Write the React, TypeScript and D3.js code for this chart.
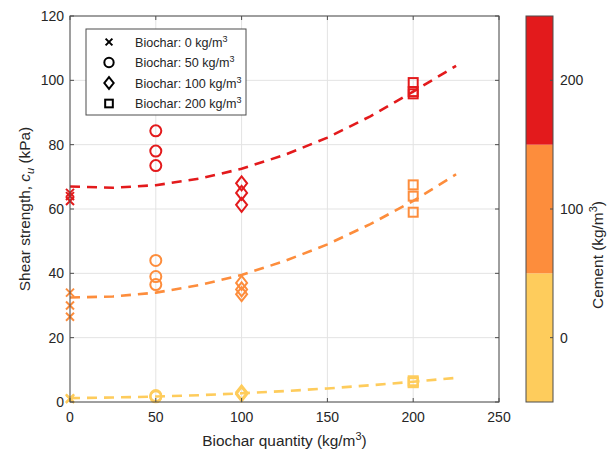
import React from "react";
import * as d3 from "d3";

// biochar dose per group (kg/m3) and cement level per series (kg/m3)
const biochar = [0, 50, 100, 200];
const cement = [0, 100, 200];
const cementColors = ["#FECC5C", "#FD8D3C", "#E31A1C"];

// measured shear strength c_u (kPa), one list of repeats per biochar dose
const cu_c0 = [[1.2, 1.0, 0.9], [2.0, 1.7, 1.6], [3.0, 2.6, 2.4], [6.6, 6.2, 6.0]];
const cu_c100 = [[34, 30, 26.5], [44, 39, 36.5], [37, 35, 33.5], [67.5, 64, 59]];
const cu_c200 = [[65, 64, 62.5], [84.3, 78, 73.5], [68, 65, 61.3], [99.3, 96.5, 95.8]];

// dashed trend lines
const fitX = [0, 25, 50, 75, 100, 125, 150, 175, 200, 225];
const fit_c0 = [1.2, 1.4, 1.7, 2.1, 2.7, 3.4, 4.2, 5.2, 6.3, 7.5];
const fit_c100 = [32.5, 32.8, 34.0, 36.3, 39.5, 43.8, 49.0, 55.3, 62.5, 70.8];
const fit_c200 = [67, 66.6, 67.4, 69.4, 72.5, 76.8, 82.2, 88.8, 96.5, 104.5];

const xTicks = [0, 50, 100, 150, 200, 250];
const yTicks = [0, 20, 40, 60, 80, 100, 120];
const cTicks = [0, 100, 200];

const series = [cu_c0, cu_c100, cu_c200];
const fits = [fit_c0, fit_c100, fit_c200];

const W = 611, H = 455;
const font = "'Liberation Sans', Arial, Helvetica, sans-serif";
const textCol = "#262626";
const axisCol = "#4d4d4d";

function Marker({ kind, x, y, color, s = 1 }) {
    const sw = 2;
    if (kind === 0) {
        const d = 4 * s;
        return <path d={`M${x - d},${y - d}L${x + d},${y + d}M${x - d},${y + d}L${x + d},${y - d}`}
            stroke={color} strokeWidth={sw} fill="none" />;
    }
    if (kind === 1) {
        return <circle cx={x} cy={y} r={5.5 * s} stroke={color} strokeWidth={sw} fill="none" />;
    }
    if (kind === 2) {
        const w = 5.5 * s, h = 7 * s;
        return <path d={`M${x},${y - h}L${x + w},${y}L${x},${y + h}L${x - w},${y}Z`}
            stroke={color} strokeWidth={sw} fill="none" />;
    }
    const a = 4.5 * s;
    return <rect x={x - a} y={y - a} width={2 * a} height={2 * a} stroke={color} strokeWidth={sw} fill="none" />;
}

export default function App() {
    const x = d3.scaleLinear().domain([0, 250]).range([70, 499]);
    const y = d3.scaleLinear().domain([0, 120]).range([402, 16]);
    const c = d3.scaleLinear().domain([-50, 250]).range([402, 16]);
    const cbX = 526, cbW = 27;

    const line = d3.line<number>()
        .x((d, i) => x(fitX[i]))
        .y((d) => y(d));

    const legendRows = biochar.map((b) => `Biochar: ${b} kg/m`);

    return (
        <svg width={W} height={H} style={{ position: "absolute", left: 0, top: 0, background: "#fff" }}
            fontFamily={font}>
            {/* grid */}
            {xTicks.map((t) => (
                <line key={"gx" + t} x1={x(t)} x2={x(t)} y1={y(0)} y2={y(120)} stroke="#e3e3e3" strokeWidth={1} />
            ))}
            {yTicks.map((t) => (
                <line key={"gy" + t} x1={x(0)} x2={x(250)} y1={y(t)} y2={y(t)} stroke="#e3e3e3" strokeWidth={1} />
            ))}

            {/* data markers */}
            {series.map((s, si) =>
                s.map((vals, bi) =>
                    vals.map((v, k) => (
                        <Marker key={`m${si}-${bi}-${k}`} kind={bi} x={x(biochar[bi])} y={y(v)} color={cementColors[si]} />
                    ))
                )
            )}

            {/* fitted curves */}
            {fits.map((f, si) => (
                <path key={"f" + si} d={line(f) || ""} fill="none" stroke={cementColors[si]}
                    strokeWidth={2.6} strokeDasharray="10 7" />
            ))}

            {/* axes box */}
            <rect x={x(0)} y={y(120)} width={x(250) - x(0)} height={y(0) - y(120)} fill="none" stroke={axisCol} strokeWidth={1} />
            {xTicks.map((t) => (
                <g key={"xt" + t}>
                    <line x1={x(t)} x2={x(t)} y1={y(0)} y2={y(0) - 4} stroke={axisCol} />
                    <line x1={x(t)} x2={x(t)} y1={y(120)} y2={y(120) + 4} stroke={axisCol} />
                    <text x={x(t)} y={y(0) + 20} textAnchor="middle" fontSize={14} fill={textCol}>{t}</text>
                </g>
            ))}
            {yTicks.map((t) => (
                <g key={"yt" + t}>
                    <line x1={x(0)} x2={x(0) + 4} y1={y(t)} y2={y(t)} stroke={axisCol} />
                    <line x1={x(250)} x2={x(250) - 4} y1={y(t)} y2={y(t)} stroke={axisCol} />
                    <text x={x(0) - 6} y={y(t) + 5} textAnchor="end" fontSize={14} fill={textCol}>{t}</text>
                </g>
            ))}

            {/* axis labels */}
            <text x={(x(0) + x(250)) / 2} y={446} textAnchor="middle" fontSize={15.4} fill={textCol}>
                Biochar quantity (kg/m<tspan dy={-6} fontSize={11}>3</tspan><tspan dy={6}>)</tspan>
            </text>
            <text transform={`translate(30,${(y(0) + y(120)) / 2}) rotate(-90)`} textAnchor="middle" fontSize={15.4} fill={textCol}>
                Shear strength, <tspan fontStyle="italic">c</tspan><tspan fontStyle="italic" dy={4} fontSize={11}>u</tspan><tspan dy={-4}> (kPa)</tspan>
            </text>

            {/* legend */}
            <rect x={86} y={29} width={160} height={86} fill="#fff" stroke={axisCol} strokeWidth={1} />
            {legendRows.map((label, i) => (
                <g key={"lg" + i}>
                    <Marker kind={i} x={109} y={42 + i * 20.5} color="#000" s={0.85} />
                    <text x={135} y={46.5 + i * 20.5} fontSize={12.6} fill={textCol}>
                        {label}<tspan dy={-5} fontSize={9}>3</tspan>
                    </text>
                </g>
            ))}

            {/* colorbar */}
            {cement.map((cv, i) => (
                <rect key={"cb" + i} x={cbX} y={c(cv + 50)} width={cbW} height={c(cv - 50) - c(cv + 50)} fill={cementColors[i]} />
            ))}
            <rect x={cbX} y={c(250)} width={cbW} height={c(-50) - c(250)} fill="none" stroke={axisCol} strokeWidth={1} />
            {cTicks.map((t) => (
                <g key={"ct" + t}>
                    <line x1={cbX + cbW} x2={cbX + cbW - 3} y1={c(t)} y2={c(t)} stroke={axisCol} />
                    <text x={cbX + cbW + 7} y={c(t) + 5} fontSize={14} fill={textCol}>{t}</text>
                </g>
            ))}
            <text transform={`translate(603,255) rotate(-90)`} textAnchor="middle" fontSize={15.4} fill={textCol}>
                Cement (kg/m<tspan dy={-6} fontSize={11}>3</tspan><tspan dy={6}>)</tspan>
            </text>
        </svg>
    );
}
